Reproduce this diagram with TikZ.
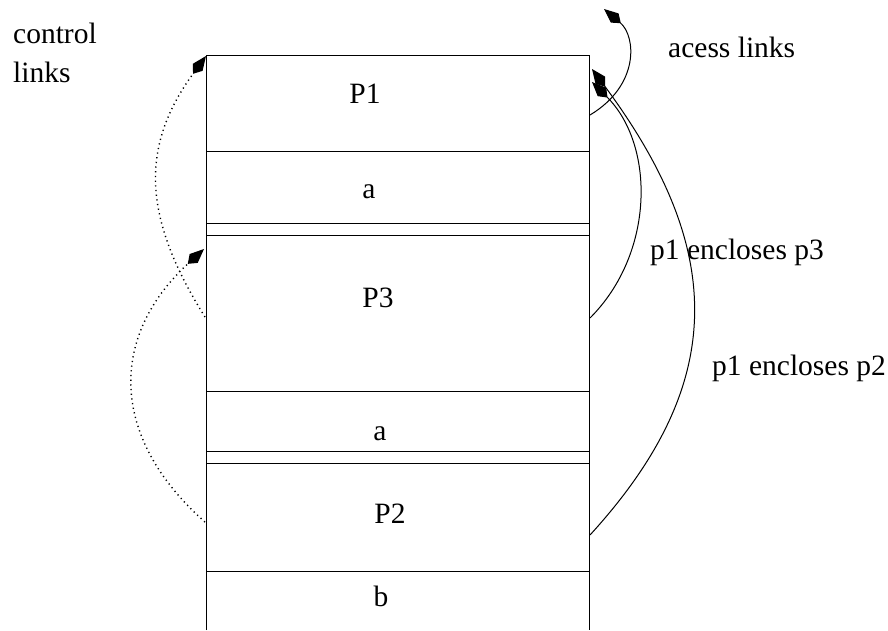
\documentclass[tikz,border=0pt]{standalone}
\usepackage{fontspec}
\setmainfont{Liberation Serif}
\usetikzlibrary{arrows.meta}
\begin{document}
\begin{tikzpicture}[x=1pt,y=-1pt,
  lbl/.style={font=\fontsize{29.5}{35}\selectfont, anchor=base, inner sep=0pt},
  lblw/.style={lbl, anchor=base west},
  frame/.style={line width=1pt},
  link/.style={line width=1pt, -{Kite[length=22pt 0,width=12pt 0,inset=8pt 0]}},
  ctrl/.style={link, line width=1.4pt, dash pattern=on 1.2pt off 3.5pt}]
\useasboundingbox (0,0) rectangle (888,630);
% frame
\draw[frame] (206,630) -- (206,55) -- (589,55) -- (589,630);
\foreach \yy in {151,223,235,391,451,463,571}
  \draw[frame] (206,\yy) -- (589,\yy);
% labels in frame
\node[lbl] (p1) at (365,103) {P1};
\node[lbl] (a1) at (369,198) {a};
\node[lbl] (p3) at (378,307) {P3};
\node[lbl] (a2) at (380,440) {a};
\node[lbl] (p2) at (390,523) {P2};
\node[lbl] (b) at (381,606) {b};
% side labels
\node[lblw] (ctl1) at (13,43) {control};
\node[lblw] (ctl2) at (13,82) {links};
\node[lblw] (acc) at (668,57) {acess links};
\node[lblw] (enc3) at (650,259) {p1 encloses p3};
\node[lblw] (enc2) at (712,375) {p1 encloses p2};
% curve end points
\coordinate (s1) at (590,115);
\coordinate (e1) at (604,9);
\coordinate (s3) at (590,318);
\coordinate (e3) at (592,82);
\coordinate (s2) at (590,535);
\coordinate (e2) at (592,69);
\coordinate (cs3) at (205,317);
\coordinate (ce3) at (206,56);
\coordinate (cs2) at (205,522);
\coordinate (ce2) at (204,249);
% access links
\draw[link] (s1) .. controls (640,85) and (636,36) .. (e1);
\draw[link] (s3) .. controls (655,253) and (655,145) .. (e3);
\draw[link] (s2) .. controls (727,385) and (727,251) .. (e2);
% control links
\draw[ctrl] (cs3) .. controls (141,215) and (141,145) .. (ce3);
\draw[ctrl] (cs2) .. controls (109,437) and (109,336) .. (ce2);
\end{tikzpicture}
\end{document}
